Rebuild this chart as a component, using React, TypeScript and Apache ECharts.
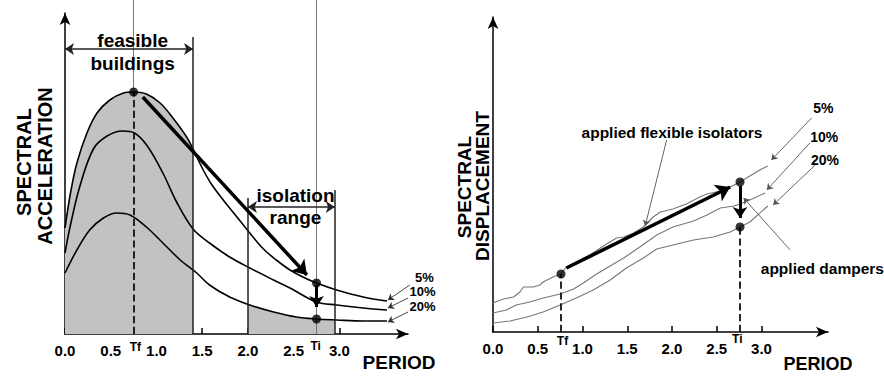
import React, { useEffect, useRef } from "react";
import * as echarts from "echarts";

const FONT = "'Liberation Sans', Arial, Helvetica, sans-serif";
const TICKS = [0, 0.5, 1, 1.5, 2, 2.5, 3];

// Left panel: spectral acceleration vs period (5%, 10%, 20% damping)
const ACC_5 = [[0,106],[0.06,141],[0.13,171],[0.24,201],[0.35,221],[0.49,234],[0.64,241],[0.75,242],[0.89,240],[1.04,231],[1.18,216],[1.33,197],[1.4,185],[1.5,166],[1.6,150],[1.73,134],[1.88,117],[2.02,101],[2.17,85],[2.31,74],[2.46,64],[2.6,57],[2.75,51],[2.97,44],[3.26,37],[3.52,33]];
const ACC_10 = [[0,81],[0.055,107],[0.16,147],[0.31,185],[0.46,198],[0.63,203],[0.76,201],[0.9,188],[1.07,161],[1.22,132],[1.4,105],[1.58,91],[1.8,77],[2.02,66],[2.28,54],[2.46,46],[2.75,32],[2.97,29],[3.26,26],[3.52,24]];
const ACC_20 = [[0,61],[0.13,84],[0.27,104],[0.42,116],[0.565,121],[0.71,119],[0.89,107],[1.07,91],[1.26,74],[1.44,61],[1.58,49],[1.8,37],[2.02,29],[2.28,22],[2.53,17],[2.75,15],[2.97,14],[3.26,13],[3.52,13]];
const FEASIBLE_SHADE = [[0,106],[0.06,141],[0.13,171],[0.24,201],[0.35,221],[0.49,234],[0.64,241],[0.75,242],[0.89,240],[1.04,231],[1.18,216],[1.33,197],[1.4,185]];
const ISOLATION_SHADE = [[2.0,30],[2.28,22],[2.53,17],[2.75,15],[2.95,14]];
const ACC_TF = 0.75;
const ACC_TI = 2.75;
const FEASIBLE_END = 1.4;
const ISO_START = 2.0;
const ISO_END = 2.95;

// Right panel: spectral displacement vs period
const DISP_5 = [[0,29],[0.115,33],[0.23,35],[0.3,40],[0.34,45],[0.45,45],[0.525,47],[0.56,50],[0.67,55],[0.76,58],[0.82,65],[1.08,77],[1.27,88],[1.38,94],[1.46,95],[1.57,99],[1.68,105],[1.79,115],[1.87,120],[2.01,123],[2.16,128],[2.31,135],[2.39,138],[2.54,141],[2.65,145],[2.76,150],[2.98,162],[3.07,166]];
const DISP_10 = [[0,19],[0.15,22],[0.26,27],[0.41,30],[0.56,34],[0.75,38],[0.9,43],[1.01,49],[1.14,57],[1.27,64],[1.46,74],[1.64,85],[1.83,97],[2.01,105],[2.24,111],[2.39,117],[2.54,124],[2.69,126],[2.76,128],[2.87,132],[3.04,139]];
const DISP_20 = [[0,9],[0.19,11],[0.38,15],[0.56,20],[0.75,27],[0.93,34],[1.12,42],[1.31,52],[1.49,64],[1.68,74],[1.83,83],[2.01,87],[2.24,92],[2.46,95],[2.65,100],[2.76,105],[2.87,110],[3.07,126]];
const DISP_TF = 0.76;
const DISP_TI = 2.76;

const DAMPING = ["5%", "10%", "20%"];

export default function App() {
  const ref = useRef<HTMLDivElement>(null);
  useEffect(() => {
    document.body.style.margin = "0";
    const chart = echarts.init(ref.current!, null, { renderer: "svg" });
    const ink = "#000";
    const xAxisBase = (gridIndex: number, max: number) => ({
      type: "value", gridIndex, min: 0, max,
      axisLine: { show: true, onZero: false, symbol: ["none", "arrow"], symbolSize: [8, 12], lineStyle: { color: ink, width: 1.5 } },
      axisTick: { show: true, inside: true, length: 6, customValues: TICKS, lineStyle: { color: ink, width: 1.5 } },
      axisLabel: { customValues: TICKS, formatter: (v: number) => v.toFixed(1), fontSize: 15, fontWeight: "bold", color: ink, margin: 9, fontFamily: FONT },
      splitLine: { show: false },
    });
    const yAxisBase = (gridIndex: number, max: number) => ({
      type: "value", gridIndex, min: 0, max,
      axisLine: { show: true, onZero: false, symbol: ["none", "arrow"], symbolSize: [8, 12], lineStyle: { color: ink, width: 1.5 } },
      axisTick: { show: false }, axisLabel: { show: false }, splitLine: { show: false },
    });
    const curve = (data: number[][], xi: number, smooth: boolean, color: string, width: number) => ({
      type: "line", xAxisIndex: xi, yAxisIndex: xi, data, smooth: smooth ? 0.35 : false, symbol: "none",
      lineStyle: { color, width }, silent: true, z: 3,
    });
    const shade = (data: number[][]) => ({
      type: "line", xAxisIndex: 0, yAxisIndex: 0, data, smooth: 0.35, symbol: "none",
      lineStyle: { width: 0, opacity: 0 }, areaStyle: { color: "#c2c2c2", opacity: 1 }, silent: true, z: 1,
    });
    const segs = (xi: number, coords: number[][][], color: string, width: number, type: string, symbol: string[], symbolSize: number, z = 4) => ({
      type: "lines", coordinateSystem: "cartesian2d", xAxisIndex: xi, yAxisIndex: xi, clip: false, silent: true, z,
      symbol, symbolSize,
      lineStyle: { color, width, type, opacity: 1, curveness: 0 },
      data: coords.map((c) => ({ coords: c })),
    });
    const texts = (xi: number, items: { value: number[]; text: string; size: number; lh?: number }[]) => ({
      type: "scatter", xAxisIndex: xi, yAxisIndex: xi, clip: false, silent: true, symbolSize: 1,
      itemStyle: { color: "rgba(255,255,255,0)" }, z: 6,
      data: items.map((it) => ({
        value: it.value,
        label: {
          show: true, position: "inside", formatter: it.text, fontSize: it.size, lineHeight: it.lh ?? Math.round(it.size * 1.1),
          fontWeight: "bold", color: "#000", fontFamily: FONT, textBorderWidth: 0, textBorderColor: "transparent", opacity: 1,
        },
      })),
    });
    const dots = (xi: number, data: number[][]) => ({
      type: "scatter", xAxisIndex: xi, yAxisIndex: xi, data, symbolSize: 9, itemStyle: { color: "#000" }, silent: true, z: 7, clip: false,
    });
    const gtext = (x: number, y: number, text: string, size: number, rotate = false) => ({
      type: "text", x, y, rotation: rotate ? Math.PI / 2 : 0,
      style: { text, fontSize: size, fontWeight: "bold", fontFamily: FONT, fill: ink, textAlign: "center", textVerticalAlign: "middle", align: "center", verticalAlign: "middle" },
    });

    const option: any = {
      animation: false,
      grid: [
        { left: 65, top: 13, width: 343, height: 321 },
        { left: 493, top: 17, width: 335, height: 315 },
      ],
      xAxis: [xAxisBase(0, 3.75), xAxisBase(1, 3.743)],
      yAxis: [yAxisBase(0, 321), yAxisBase(1, 315)],
      graphic: [
        gtext(24, 162, "SPECTRAL", 20, true),
        gtext(45, 166, "ACCELERATION", 20, true),
        gtext(464, 187, "SPECTRAL", 19, true),
        gtext(482, 186, "DISPLACEMENT", 19, true),
        gtext(399, 362, "PERIOD", 19),
        gtext(818, 364, "PERIOD", 18),
      ],
      series: [
        shade(FEASIBLE_SHADE),
        shade(ISOLATION_SHADE),
        curve(ACC_5, 0, true, ink, 1.6),
        curve(ACC_10, 0, true, ink, 1.6),
        curve(ACC_20, 0, true, ink, 1.6),
        // thin guide lines (left)
        segs(0, [[[ACC_TF, 242], [ACC_TF, 334]], [[ACC_TI, 0], [ACC_TI, 334]]], "#666", 0.9, "solid", ["none", "none"], 0, 2),
        // range boundaries
        segs(0, [[[FEASIBLE_END, 0], [FEASIBLE_END, 297]], [[ISO_START, 0], [ISO_START, 136]], [[ISO_END, 0], [ISO_END, 144]]], "#222", 1.5, "solid", ["none", "none"], 0),
        // range double arrows
        segs(0, [[[0, 285], [FEASIBLE_END, 285]], [[ISO_START, 127], [ISO_END, 127]]], "#222", 1.5, "solid", ["arrow", "arrow"], 9),
        // dashed period markers
        segs(0, [[[ACC_TF, 0], [ACC_TF, 242]]], "#111", 1.8, "dashed", ["none", "none"], 0),
        segs(1, [[[DISP_TF, 0], [DISP_TF, 58]], [[DISP_TI, 0], [DISP_TI, 105]]], "#111", 1.8, "dashed", ["none", "none"], 0),
        // bold arrows
        segs(0, [[[0.85, 237], [2.645, 59]]], "#000", 3.5, "solid", ["none", "arrow"], 14, 5),
        segs(0, [[[ACC_TI, 49], [ACC_TI, 27]]], "#000", 3, "solid", ["none", "arrow"], 11, 5),
        segs(1, [[[0.82, 64], [2.65, 145]]], "#000", 3.5, "solid", ["none", "arrow"], 14, 5),
        segs(1, [[[DISP_TI, 146], [DISP_TI, 114]]], "#000", 3, "solid", ["none", "arrow"], 11, 5),
        // leader lines
        segs(0, [[[3.77, 49], [3.53, 34]], [[3.75, 36], [3.53, 26]], [[3.75, 22], [3.53, 12]]], "#333", 0.9, "solid", ["none", "arrow"], 6),
        segs(1, [[[1.94, 192], [1.7, 106]], [[3.32, 82], [2.8, 134]], [[3.56, 214], [3.11, 172]], [[3.54, 189], [3.06, 142]], [[3.6, 167], [3.13, 127]]], "#555", 0.9, "solid", ["none", "arrow"], 6),
        curve(DISP_5, 1, false, "#777", 1.1),
        curve(DISP_10, 1, false, "#777", 1.1),
        curve(DISP_20, 1, false, "#777", 1.1),
        dots(0, [[ACC_TF, 242], [ACC_TI, 51], [ACC_TI, 15]]),
        dots(1, [[DISP_TF, 58], [DISP_TI, 150], [DISP_TI, 105]]),
        texts(0, [
          { value: [0.74, 282.5], text: "feasible\nbuildings", size: 19, lh: 23 },
          { value: [2.52, 128], text: "isolation\nrange", size: 19, lh: 22 },
          { value: [3.93, 57], text: DAMPING[0], size: 13 },
          { value: [3.91, 42.5], text: DAMPING[1], size: 13 },
          { value: [3.91, 28], text: DAMPING[2], size: 13 },
          { value: [0.77, -13], text: "Tf", size: 12 },
          { value: [2.74, -12], text: "Ti", size: 12 },
        ]),
        texts(1, [
          { value: [2.0, 200], text: "applied flexible isolators", size: 15.5 },
          { value: [3.68, 64], text: "applied dampers", size: 15.5 },
          { value: [3.69, 224], text: DAMPING[0], size: 14 },
          { value: [3.7, 195], text: DAMPING[1], size: 14 },
          { value: [3.71, 172], text: DAMPING[2], size: 14 },
          { value: [0.776, -9], text: "Tf", size: 12 },
          { value: [2.73, -7], text: "Ti", size: 12 },
        ]),
      ],
    };
    chart.setOption(option);
    return () => chart.dispose();
  }, []);
  return <div ref={ref} style={{ width: 884, height: 380 }} />;
}
